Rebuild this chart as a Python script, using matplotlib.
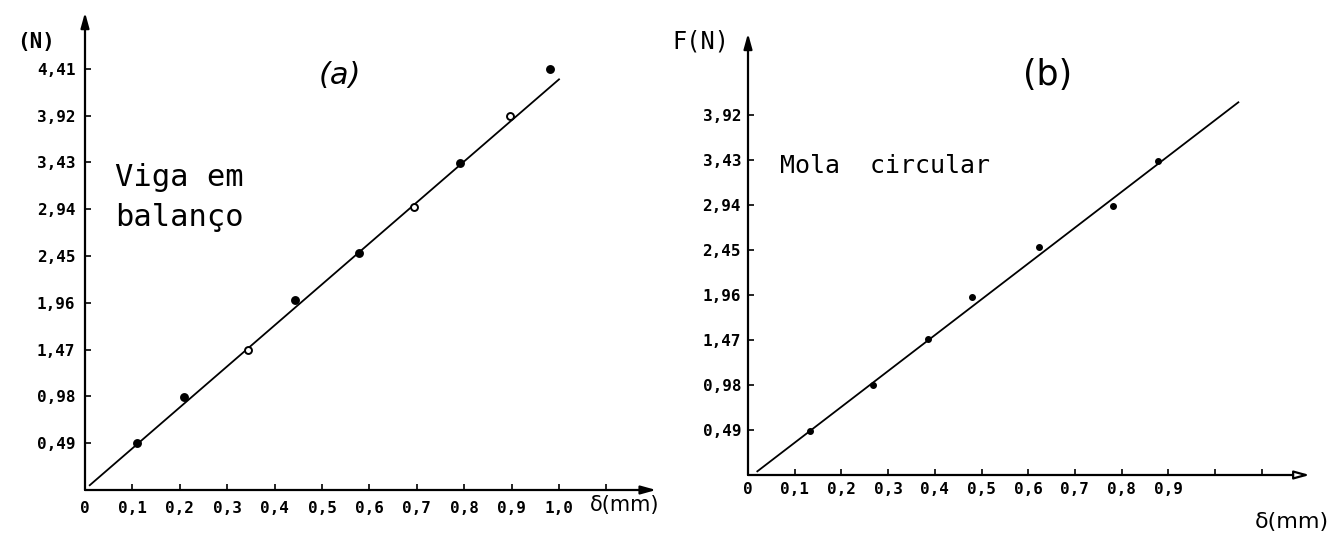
import matplotlib
matplotlib.use("Agg")
import matplotlib.pyplot as plt

W, H = 1344, 534

# (a) Viga em balanço
delta_a = [0.11, 0.208, 0.343, 0.443, 0.578, 0.694, 0.791, 0.897, 0.981]
force_a = [0.49, 0.97, 1.47, 1.99, 2.48, 2.96, 3.42, 3.92, 4.41]
open_a = [False, False, True, False, False, True, False, True, False]
fit_a_x = [0.01, 1.0]
fit_a_y = [0.05, 4.30]
yticks_a = [0.49, 0.98, 1.47, 1.96, 2.45, 2.94, 3.43, 3.92, 4.41]
xticks_a = [0.0, 0.1, 0.2, 0.3, 0.4, 0.5, 0.6, 0.7, 0.8, 0.9, 1.0, 1.1]
xlabels_a = ["0", "0,1", "0,2", "0,3", "0,4", "0,5", "0,6", "0,7", "0,8", "0,9", "1,0", ""]

# (b) Mola circular
delta_b = [0.133, 0.268, 0.386, 0.479, 0.623, 0.782, 0.877]
force_b = [0.48, 0.98, 1.48, 1.94, 2.48, 2.93, 3.42]
fit_b_x = [0.02, 1.05]
fit_b_y = [0.04, 4.06]
yticks_b = [0.49, 0.98, 1.47, 1.96, 2.45, 2.94, 3.43, 3.92]
xticks_b = [0.0, 0.1, 0.2, 0.3, 0.4, 0.5, 0.6, 0.7, 0.8, 0.9, 1.0, 1.1]
xlabels_b = ["0", "0,1", "0,2", "0,3", "0,4", "0,5", "0,6", "0,7", "0,8", "0,9", "", ""]

MONO = "DejaVu Sans Mono"


def px_axes(fig, x0, y0, xs, ys, xmax, ymax):
    # axes whose data origin sits at pixel (x0, y0), xs/ys = pixels per unit
    w = xs * xmax
    h = ys * ymax
    return fig.add_axes([x0 / W, (H - y0) / H, w / W, h / H])


def ftext(fig, x, y, s, **kw):
    fig.text(x / W, 1 - y / H, s, **kw)


def setup(ax, xmax, ymax, xticks, xlabels, yticks, xpad, ypad, open_head=False):
    ax.set_xlim(0, xmax)
    ax.set_ylim(0, ymax)
    for s in ax.spines.values():
        s.set_visible(False)
    ax.set_xticks(xticks)
    ax.set_xticklabels(xlabels)
    ax.set_yticks(yticks)
    ax.set_yticklabels([("%.2f" % v).replace(".", ",") for v in yticks])
    ax.tick_params(direction="in", length=4, width=1.2, labelsize=11.5)
    ax.tick_params(axis="x", pad=xpad)
    ax.tick_params(axis="y", pad=ypad)
    for lab in ax.get_xticklabels() + ax.get_yticklabels():
        lab.set_family(MONO)
        lab.set_fontweight("bold")
    fc = "white" if open_head else "black"
    ax.annotate("", xy=(xmax, 0), xytext=(0, 0), annotation_clip=False,
                arrowprops=dict(arrowstyle="-|>,head_length=0.9,head_width=0.25",
                                lw=1.6, color="black", fc=fc, shrinkA=0, shrinkB=0))
    ax.annotate("", xy=(0, ymax), xytext=(0, 0), annotation_clip=False,
                arrowprops=dict(arrowstyle="-|>,head_length=0.9,head_width=0.25",
                                lw=1.6, color="black", shrinkA=0, shrinkB=0))


fig = plt.figure(figsize=(W / 100, H / 100), dpi=100)

# --- panel (a) ---
ax_a = px_axes(fig, 85, 490, 474, 95.5, 1.205, 5.0)
setup(ax_a, 1.205, 5.0, xticks_a, xlabels_a, yticks_a, xpad=8, ypad=7)
ax_a.plot(fit_a_x, fit_a_y, color="black", lw=1.3)
for x, y, o in zip(delta_a, force_a, open_a):
    ax_a.plot(x, y, "o", ms=5, mec="black", mew=1.4,
              mfc="white" if o else "black")

ftext(fig, 36, 42, "(N)", family=MONO, fontweight="bold", fontsize=15,
      ha="center", va="center")
ftext(fig, 340, 76, "(a)", fontsize=22, style="italic", ha="center", va="center")
ftext(fig, 115, 178, "Viga em", family=MONO, fontsize=22, ha="left", va="center")
ftext(fig, 115, 218, "balanço", family=MONO, fontsize=22, ha="left", va="center")
ftext(fig, 590, 505, "δ(mm)", fontsize=15, ha="left", va="center")

# --- panel (b) ---
ax_b = px_axes(fig, 748, 475, 467, 91.8, 1.203, 4.81)
setup(ax_b, 1.203, 4.81, xticks_b, xlabels_b, yticks_b, xpad=5, ypad=5,
      open_head=True)
ax_b.plot(fit_b_x, fit_b_y, color="black", lw=1.3)
ax_b.plot(delta_b, force_b, "o", ms=4, color="black")

ftext(fig, 701, 42, "F(N)", family=MONO, fontsize=17, ha="center", va="center")
ftext(fig, 1048, 75, "(b)", fontsize=25, ha="center", va="center")
ftext(fig, 780, 166, "Mola  circular", family=MONO, fontsize=18,
      ha="left", va="center")
ftext(fig, 1255, 522, "δ(mm)", fontsize=16, ha="left", va="center")

fig.savefig("out.png", dpi=100)
